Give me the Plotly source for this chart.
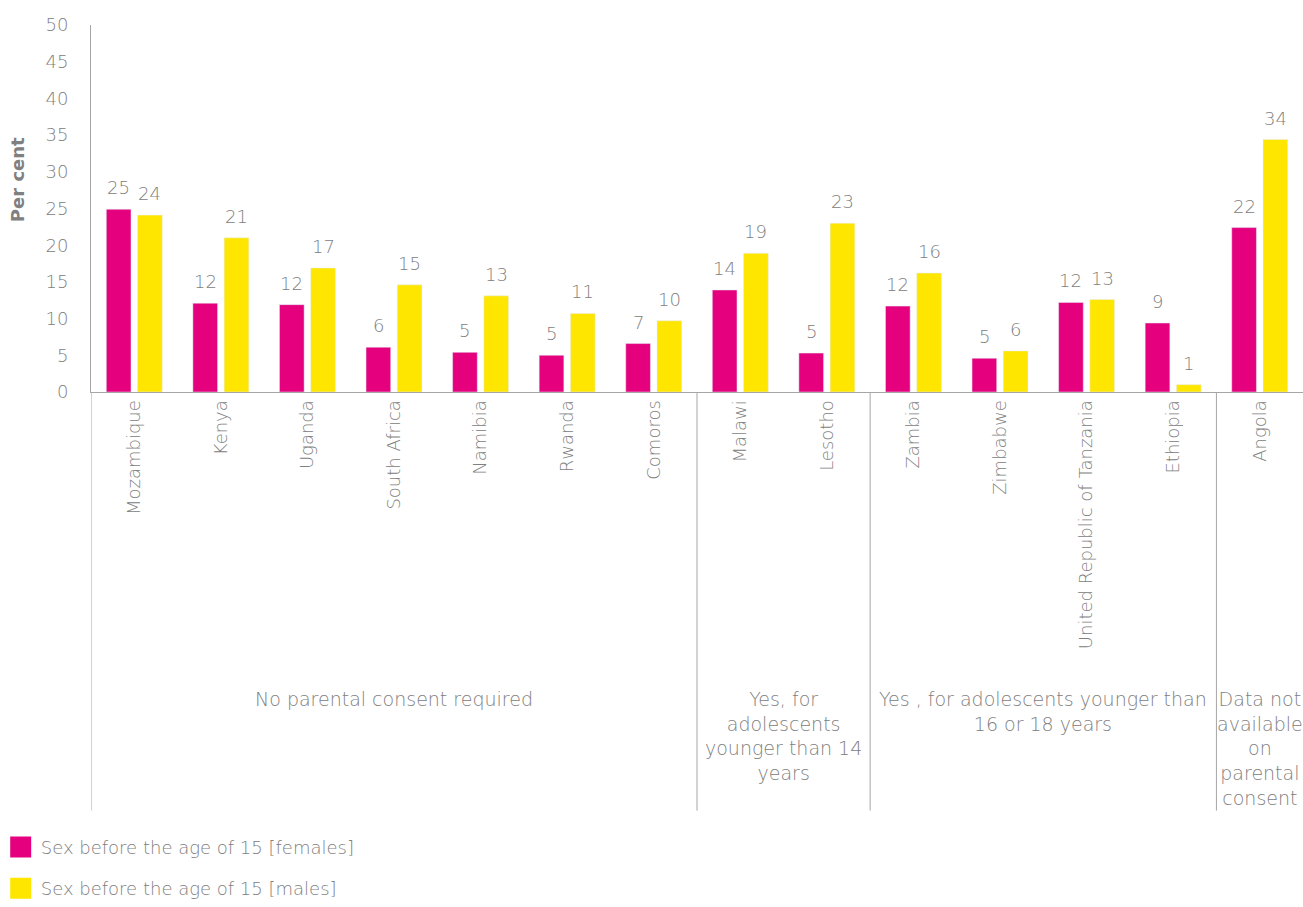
import plotly.graph_objects as go

countries = ["Mozambique", "Kenya", "Uganda", "South Africa", "Namibia", "Rwanda",
             "Comoros", "Malawi", "Lesotho", "Zambia", "Zimbabwe",
             "United Republic of Tanzania", "Ethiopia", "Angola"]
females = [24.9, 12.1, 11.9, 6.1, 5.4, 5.0, 6.6, 13.9, 5.3, 11.7, 4.6, 12.2, 9.4, 22.4]
males = [24.1, 21.0, 16.9, 14.6, 13.1, 10.7, 9.7, 18.9, 23.0, 16.2, 5.6, 12.6, 1.0, 34.4]
group_labels = ["No parental consent required",
                "Yes, for<br>adolescents<br>younger than 14<br>years",
                "Yes , for adolescents younger than<br>16 or 18 years",
                "Data not<br>available<br>on<br>parental<br>consent"]
group_sizes = [7, 2, 4, 1]
series_names = ["Sex before the age of 15 [females]", "Sex before the age of 15 [males]"]
y_ticks = list(range(0, 51, 5))

PINK = "#E5007E"
YELLOW = "#FFE600"
GRAY = "#808080"
LINE = "#A6A6A6"
FONT = "DejaVu Sans"
W = 200

fig = go.Figure()
for name, vals, col in [(series_names[0], females, PINK), (series_names[1], males, YELLOW)]:
    fig.add_trace(go.Bar(x=countries, y=vals, name=name, marker=dict(color=col),
                         showlegend=False, hoverinfo="x+y"))
for i, (name, col) in enumerate([(series_names[0], PINK), (series_names[1], YELLOW)]):
    fig.add_trace(go.Scatter(x=[None], y=[None], mode="markers", name=name,
                             legendgroup=f"g{i}",
                             marker=dict(symbol="square", size=16, color=col,
                                         line=dict(color=col, width=5))))

annotations = []
for vals, shift in [(females, -15.6), (males, 15.6)]:
    for c, v in zip(countries, vals):
        annotations.append(dict(x=c, y=v, xref="x", yref="y", text=str(int(v + 0.5)),
                                showarrow=False, xshift=shift, yshift=9, yanchor="bottom",
                                font=dict(family=FONT, size=18, color=GRAY, weight=W)))
shapes = []
start = 0
GROUP_Y = -0.80
DIV_BOTTOM = -1.1405
shapes.append(dict(type="line", xref="x", yref="paper", x0=-0.5, x1=-0.5, y0=0, y1=DIV_BOTTOM,
                   line=dict(color=LINE, width=1)))
for lab, n in zip(group_labels, group_sizes):
    mid = start + (n - 1) / 2
    annotations.append(dict(x=mid, y=GROUP_Y, xref="x", yref="paper", text=lab, showarrow=False,
                            yanchor="top", align="center",
                            font=dict(family=FONT, size=19, color=GRAY, weight=W)))
    start += n
    if start < len(countries):
        shapes.append(dict(type="line", xref="x", yref="paper", x0=start - 0.5, x1=start - 0.5,
                           y0=0, y1=DIV_BOTTOM, line=dict(color=LINE, width=1)))

annotations.append(dict(x=-0.060, y=0.578, xref="paper", yref="paper", text="<b>Per cent</b>",
                        textangle=-90, showarrow=False, xanchor="center", yanchor="middle",
                        font=dict(family=FONT, size=18, color=GRAY)))

fig.update_layout(
    width=1303, height=907,
    margin=dict(l=91, r=0, t=25, b=512),
    plot_bgcolor="white", paper_bgcolor="white",
    barmode="group", bargap=0.278, bargroupgap=0.21,
    font=dict(family=FONT, size=18, color=GRAY, weight=W),
    annotations=annotations, shapes=shapes,
    legend=dict(x=-0.0745, xanchor="left", y=-1.19, yanchor="top", orientation="v",
                font=dict(family=FONT, size=18, color=GRAY, weight=W),
                tracegroupgap=15, itemclick=False, bgcolor="rgba(0,0,0,0)"),
)
fig.update_xaxes(type="category", tickangle=-90, showline=True, linecolor=LINE, linewidth=1,
                 ticks="", range=[-0.5, len(countries) - 0.5], showgrid=False,
                 tickfont=dict(family=FONT, size=18, color=GRAY, weight=W))
fig.update_yaxes(range=[0, 50], tickvals=y_ticks, showline=True, linecolor=LINE, linewidth=1,
                 showgrid=False, zeroline=False, ticks="", ticklabelstandoff=18,
                 tickfont=dict(family=FONT, size=18, color=GRAY, weight=W))

fig.write_html("out.html", config={"displayModeBar": False},
               post_script="document.body.style.margin='0';document.body.style.overflow='hidden';")
